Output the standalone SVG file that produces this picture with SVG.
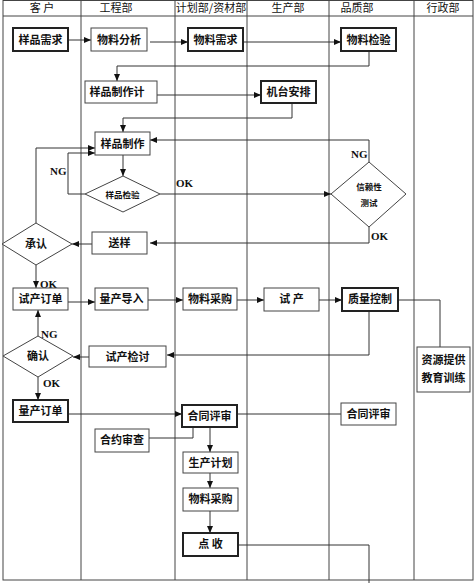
<svg xmlns="http://www.w3.org/2000/svg" width="474" height="583" viewBox="0 0 474 583">
<style>
.grid{stroke:#444;stroke-width:1;fill:none}
.box{fill:#fff;stroke:#444;stroke-width:1}
.bold{stroke:#222;stroke-width:2}
.t{font-family:"Noto Sans CJK SC","Liberation Sans",sans-serif;font-size:11px;fill:#111;text-anchor:middle;font-weight:bold}
.ts{font-family:"Noto Sans CJK SC","Liberation Sans",sans-serif;font-size:8.5px;fill:#111;text-anchor:middle;font-weight:bold}
.h{font-family:"Noto Sans CJK SC","Liberation Sans",sans-serif;font-size:11px;fill:#111;text-anchor:middle}
.lbl{font-family:"Liberation Serif",serif;font-size:11px;font-weight:bold;fill:#111}
.c{fill:none;stroke:#333;stroke-width:1}
</style>
<defs>
<marker id="ah" markerUnits="userSpaceOnUse" markerWidth="7" markerHeight="6" refX="7" refY="3" orient="auto">
<path d="M0,0 L7,3 L0,6 z" fill="#111"/>
</marker>
</defs>
<rect width="474" height="583" fill="#fff"/>
<g id="grid">
<rect class="grid" x="3" y="0.5" width="470" height="579.5"/>
<line class="grid" x1="3" y1="16" x2="473" y2="16"/>
<line class="grid" x1="81" y1="0" x2="81" y2="580"/>
<line class="grid" x1="175" y1="0" x2="175" y2="580"/>
<line class="grid" x1="247" y1="0" x2="247" y2="580"/>
<line class="grid" x1="329" y1="0" x2="329" y2="580"/>
<line class="grid" x1="414" y1="0" x2="414" y2="580"/>
<text class="h" x="42" y="12">客  户</text>
<text class="h" x="116" y="12">工程部</text>
<text class="h" x="211" y="12">计划部/资材部</text>
<text class="h" x="288" y="12">生产部</text>
<text class="h" x="357" y="12">品质部</text>
<text class="h" x="443" y="12">行政部</text>
</g>
<g id="connectors">
<path class="c" d="M68,40 H91" marker-end="url(#ah)"/>
<path class="c" d="M150,42 H188" marker-end="url(#ah)"/>
<path class="c" d="M243,42 H341" marker-end="url(#ah)"/>
<path class="c" d="M369,51 V66 H117 V81" marker-end="url(#ah)"/>
<path class="c" d="M157,95 H261" marker-end="url(#ah)"/>
<path class="c" d="M292,103 V118 H123 V132" marker-end="url(#ah)"/>
<path class="c" d="M369,162 V140 H150" marker-end="url(#ah)"/>
<path class="c" d="M36,223 V148 H95" marker-end="url(#ah)"/>
<path class="c" d="M85,194 H68 V153 H95" marker-end="url(#ah)"/>
<path class="c" d="M123,155 V176" marker-end="url(#ah)"/>
<path class="c" d="M160,194 H331" marker-end="url(#ah)"/>
<path class="c" d="M369,227 V243 H150" marker-end="url(#ah)"/>
<path class="c" d="M92,244 H72" marker-end="url(#ah)"/>
<path class="c" d="M36,265 V288" marker-end="url(#ah)"/>
<path class="c" d="M68,302 H95" marker-end="url(#ah)"/>
<path class="c" d="M148,300 H183" marker-end="url(#ah)"/>
<path class="c" d="M237,300 H264" marker-end="url(#ah)"/>
<path class="c" d="M319,300 H342" marker-end="url(#ah)"/>
<path class="c" d="M398,300 H440 V347"/>
<path class="c" d="M369,311 V355 H167" marker-end="url(#ah)"/>
<path class="c" d="M89,357 H73" marker-end="url(#ah)"/>
<path class="c" d="M38,336 V310" marker-end="url(#ah)"/>
<path class="c" d="M38,377 V400" marker-end="url(#ah)"/>
<path class="c" d="M68,414 H182" marker-end="url(#ah)"/>
<path class="c" d="M237,414 H341"/>
<path class="c" d="M149,438 H193 V427"/>
<path class="c" d="M210,427 V452" marker-end="url(#ah)"/>
<path class="c" d="M210,473 V488" marker-end="url(#ah)"/>
<path class="c" d="M210,511 V533" marker-end="url(#ah)"/>
<path class="c" d="M238,545 H369 V583"/>
<text class="lbl" x="50" y="175">NG</text>
<text class="lbl" x="176" y="187">OK</text>
<text class="lbl" x="351" y="158">NG</text>
<text class="lbl" x="371" y="240">OK</text>
<text class="lbl" x="40" y="288">OK</text>
<text class="lbl" x="41" y="338">NG</text>
<text class="lbl" x="43" y="387">OK</text>
</g>
<g id="n1"><rect class="box bold" x="13" y="28" width="55" height="23"/><text class="t" x="40.5" y="44">样品需求</text></g>
<g id="n2"><rect class="box" x="91" y="28" width="56" height="23"/><text class="t" x="119" y="44">物料分析</text></g>
<g id="n3"><rect class="box bold" x="188" y="28" width="55" height="23"/><text class="t" x="215.5" y="44">物料需求</text></g>
<g id="n4"><rect class="box bold" x="341" y="28" width="55" height="23"/><text class="t" x="368.5" y="44">物料检验</text></g>
<g id="n5"><rect class="box" x="85" y="81" width="72" height="22"/><text class="t" x="117" y="96">样品制作计</text></g>
<g id="n6"><rect class="box bold" x="261" y="81" width="55" height="22"/><text class="t" x="288.5" y="96">机台安排</text></g>
<g id="n7"><rect class="box" x="95" y="132" width="55" height="23"/><text class="t" x="122.5" y="148">样品制作</text></g>
<g id="n8"><polygon class="box" points="85,194 123,176 160,194 123,212"/><text class="ts" x="122.5" y="197.5">样品检验</text></g>
<g id="n9"><polygon class="box" points="331,194 369,162 406,194 369,227"/><text class="ts" x="369" y="190">信赖性</text><text class="ts" x="369" y="206">测试</text></g>
<g id="n10"><rect class="box" x="92" y="232" width="55" height="22"/><text class="t" x="119.5" y="247">送样</text></g>
<g id="n11"><polygon class="box" points="2,244 36,223 72,244 36,265"/><text class="t" x="36" y="248">承认</text></g>
<g id="n12"><rect class="box" x="13" y="288" width="55" height="22"/><text class="t" x="40.5" y="303">试产订单</text></g>
<g id="n13"><rect class="box" x="95" y="288" width="53" height="22"/><text class="t" x="121.5" y="303">量产导入</text></g>
<g id="n14"><rect class="box" x="183" y="288" width="54" height="22"/><text class="t" x="210" y="303">物料采购</text></g>
<g id="n15"><rect class="box" x="264" y="288" width="55" height="23"/><text class="t" x="291.5" y="303">试 产</text></g>
<g id="n16"><rect class="box bold" x="342" y="288" width="56" height="23"/><text class="t" x="370" y="303">质量控制</text></g>
<g id="n17"><rect class="box" x="417" y="347" width="53" height="45"/><text class="t" x="443.5" y="364">资源提供</text><text class="t" x="443.5" y="382">教育训练</text></g>
<g id="n18"><rect class="box" x="89" y="346" width="77" height="21"/><text class="t" x="127.5" y="361">试产检讨</text></g>
<g id="n19"><polygon class="box" points="3,356 38,336 73,356 38,377"/><text class="t" x="38" y="360">确认</text></g>
<g id="n20"><rect class="box bold" x="13" y="400" width="55" height="22"/><text class="t" x="40.5" y="415">量产订单</text></g>
<g id="n21"><rect class="box bold" x="182" y="405" width="55" height="22"/><text class="t" x="209.5" y="420">合同评审</text></g>
<g id="n22"><rect class="box" x="341" y="403" width="55" height="22"/><text class="t" x="368.5" y="418">合同评审</text></g>
<g id="n23"><rect class="box" x="95" y="429" width="54" height="23"/><text class="t" x="122" y="444">合约审查</text></g>
<g id="n24"><rect class="box" x="183" y="452" width="55" height="21"/><text class="t" x="210.5" y="467">生产计划</text></g>
<g id="n25"><rect class="box" x="183" y="488" width="55" height="23"/><text class="t" x="210.5" y="503">物料采购</text></g>
<g id="n26"><rect class="box bold" x="183" y="533" width="55" height="23"/><text class="t" x="210.5" y="548">点 收</text></g>
</svg>
